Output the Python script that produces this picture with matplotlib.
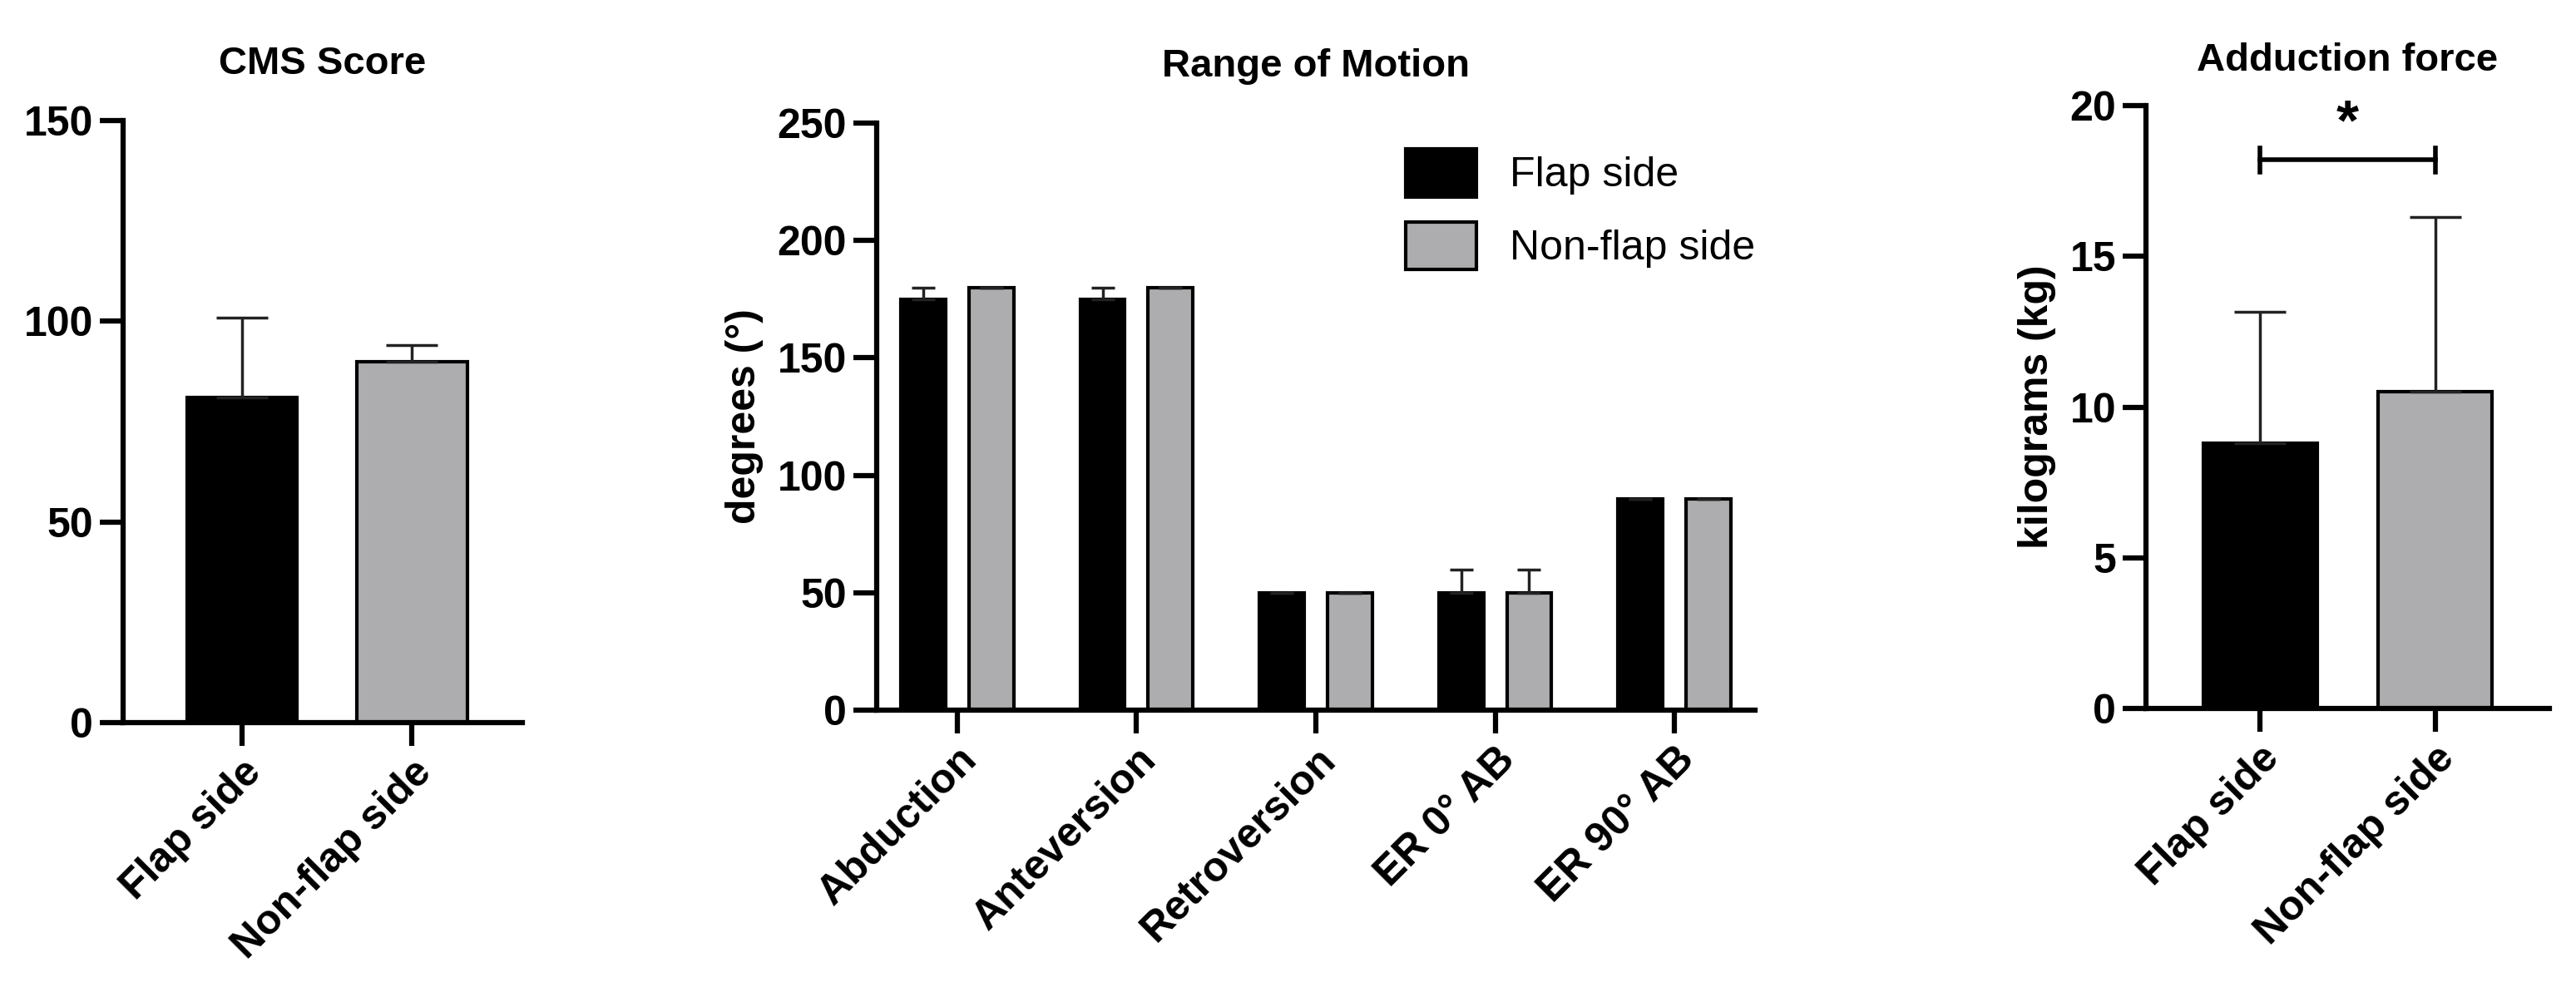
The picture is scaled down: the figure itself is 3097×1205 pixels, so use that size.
import numpy as np
import matplotlib
matplotlib.use('Agg')
import matplotlib.pyplot as plt

plt.rcParams['font.family'] = ['Liberation Sans', 'DejaVu Sans']
plt.rcParams['font.weight'] = 'bold'

sides = ['Flap side', 'Non-flap side']
cms_mean = [81, 90]
cms_sd = [20, 4]

rom_labels = ['Abduction', 'Anteversion', 'Retroversion', 'ER 0° AB', 'ER 90° AB']
rom_flap = [175, 175, 50, 50, 90]
rom_flap_sd = [5, 5, 0, 10, 0]
rom_non = [180, 180, 50, 50, 90]
rom_non_sd = [0, 0, 0, 10, 0]

af_mean = [8.8, 10.5]
af_sd = [4.35, 5.8]

BLACK = '#000000'
GREY = '#adadaf'
W, H = 3097, 1205

fig = plt.figure(figsize=(W / 100, H / 100), dpi=100)


def box(l, r, t, b):
    return [l / W, 1 - b / H, (r - l) / W, (b - t) / H]


def style(ax):
    for s in ['top', 'right']:
        ax.spines[s].set_visible(False)
    for s in ['left', 'bottom']:
        ax.spines[s].set_linewidth(4.5)
    ax.tick_params(width=4.5, length=20, labelsize=36, pad=6)
    for lab in ax.get_yticklabels():
        lab.set_fontweight('bold')


def one_sided(vals):
    return [np.zeros(len(vals)), vals]


# CMS Score
ax1 = fig.add_axes(box(148, 628, 145, 869))
x = np.arange(2)
ax1.bar(x, cms_mean, width=0.65, color=[BLACK, GREY], edgecolor=BLACK, linewidth=3,
        yerr=one_sided(cms_sd), capsize=22, error_kw=dict(elinewidth=2.5, capthick=2.5, ecolor='#222222'))
ax1.set_xlim(-0.7, 1.65)
ax1.set_ylim(0, 150)
ax1.set_yticks([0, 50, 100, 150])
ax1.set_xticks(x)
ax1.set_xticklabels(sides, rotation=45, ha='right', rotation_mode='anchor', fontweight='bold')
ax1.set_title('CMS Score', fontsize=34, fontweight='bold', pad=40)
style(ax1)

# Range of Motion
ax2 = fig.add_axes(box(1054, 2110, 148, 854))
x = np.arange(len(rom_labels))
bw = 0.25
ek = dict(elinewidth=2.5, capthick=2.5, ecolor='#222222')
ax2.bar(x - 0.19, rom_flap, width=bw, color=BLACK, edgecolor=BLACK, linewidth=3,
        yerr=one_sided(rom_flap_sd), capsize=10, error_kw=ek, label='Flap side')
ax2.bar(x + 0.19, rom_non, width=bw, color=GREY, edgecolor=BLACK, linewidth=3,
        yerr=one_sided(rom_non_sd), capsize=10, error_kw=ek, label='Non-flap side')
ax2.set_xlim(-0.45, 4.45)
ax2.set_ylim(0, 250)
ax2.set_yticks([0, 50, 100, 150, 200, 250])
ax2.set_xticks(x)
ax2.set_xticklabels(rom_labels, rotation=45, ha='right', rotation_mode='anchor', fontweight='bold')
ax2.set_ylabel('degrees (°)', fontsize=36, fontweight='bold', labelpad=12)
ax2.set_title('Range of Motion', fontsize=34, fontweight='bold', pad=40)
leg = ax2.legend(loc='upper left', bbox_to_anchor=(0.56, 1.02), frameon=False,
                 prop={'size': 36, 'weight': 'normal'}, handlelength=1.7, handleheight=1.4,
                 labelspacing=0.6, handletextpad=0.8)
style(ax2)

# Adduction force
ax3 = fig.add_axes(box(2580, 3065, 127, 852))
x = np.arange(2)
ax3.bar(x, af_mean, width=0.65, color=[BLACK, GREY], edgecolor=BLACK, linewidth=3,
        yerr=one_sided(af_sd), capsize=22, error_kw=dict(elinewidth=2.5, capthick=2.5, ecolor='#222222'))
ax3.set_xlim(-0.65, 1.65)
ax3.set_ylim(0, 20)
ax3.set_yticks([0, 5, 10, 15, 20])
ax3.set_xticks(x)
ax3.set_xticklabels(sides, rotation=45, ha='right', rotation_mode='anchor', fontweight='bold')
ax3.set_ylabel('kilograms (kg)', fontsize=36, fontweight='bold', labelpad=12)
ax3.set_title('Adduction force', fontsize=34, fontweight='bold', pad=30)
ax3.plot([0, 1], [18.2, 18.2], color=BLACK, lw=4)
ax3.plot([0, 0], [17.8, 18.6], color=BLACK, lw=4)
ax3.plot([1, 1], [17.8, 18.6], color=BLACK, lw=4)
ax3.text(0.5, 18.5, '*', ha='center', va='bottom', fontsize=50, fontweight='bold')
style(ax3)

fig.savefig('out.png', dpi=100)
